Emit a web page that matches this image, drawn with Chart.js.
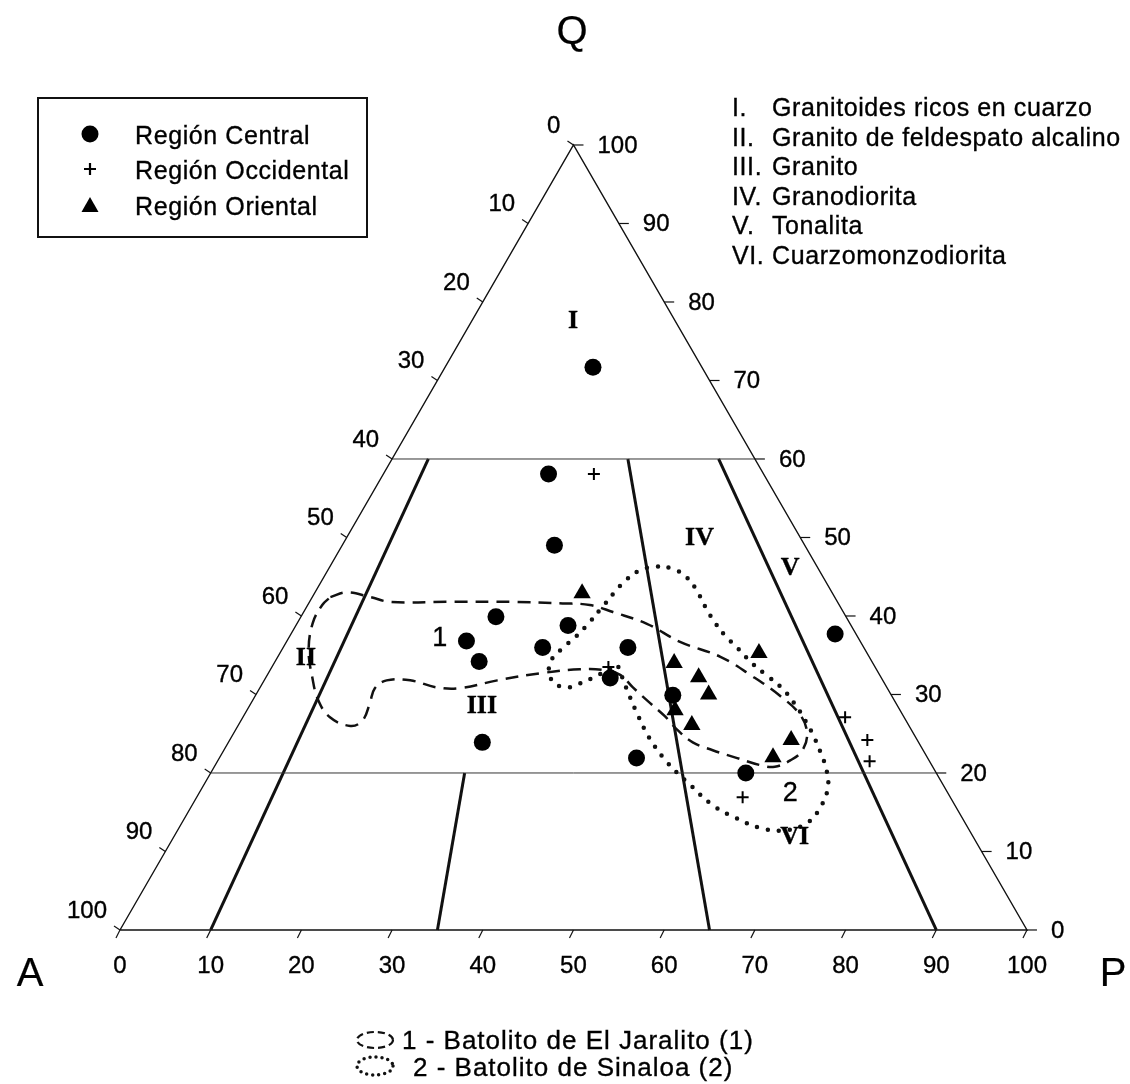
<!DOCTYPE html>
<html lang="es">
<head>
  <meta charset="UTF-8">
  <title>Diagrama QAP</title>
  <script src="https://cdn.jsdelivr.net/npm/chart.js"></script>
  <style>
    html, body {
      margin: 0;
      padding: 0;
      background: #fff;
    }
    #wrap {
      position: relative;
      width: 1130px;
      height: 1084px;
      font-family: "Liberation Sans", Arial, sans-serif;
      color: #000;
      overflow: hidden;
    }
    #wrap canvas {
      position: absolute;
      left: 0;
      top: 0;
    }
    .t {
      position: absolute;
      white-space: nowrap;
      line-height: 1;
      -webkit-text-stroke: 0.35px #000;
    }
    .tick { font-size: 24px; }
    .field { font-family: "Liberation Serif", "Times New Roman", serif; font-weight: bold; font-size: 26px; }
    .num { font-size: 27px; }
    .corner { font-size: 40px; -webkit-text-stroke: 0.2px #000; }
    #legend {
      position: absolute;
      left: 37px;
      top: 97px;
      width: 327px;
      height: 137px;
      border: 2px solid #111;
      font-size: 25px;
      letter-spacing: 0.6px;
      -webkit-text-stroke: 0.35px #000;
    }
    .row { position: absolute; left: 0; transform: translateY(-50%); }
    .row svg { position: absolute; left: 41px; top: -10px; }
    .row span { position: absolute; left: 96px; top: -13px; white-space: nowrap; }
    .list { font-size: 25px; letter-spacing: 0.6px; }
    .bottom { font-size: 26px; letter-spacing: 1px; }
  </style>
</head>
<body>
<div id="wrap">
  <canvas id="qap"></canvas>

  <div class="t corner" style="left:572px;top:30px;transform:translate(-50%,-50%)">Q</div>
  <div class="t corner" style="left:30px;top:972px;transform:translate(-50%,-50%)">A</div>
  <div class="t corner" style="left:1113px;top:972px;transform:translate(-50%,-50%)">P</div>

  <div id="legend">
    <div class="row" style="top:35px">
      <svg width="20" height="20"><circle cx="10" cy="10" r="8.5" fill="#000"/></svg>
      <span>Región Central</span>
    </div>
    <div class="row" style="top:70px">
      <svg width="20" height="20"><path d="M4 10H16M10 4V16" stroke="#000" stroke-width="2.2"/></svg>
      <span>Región Occidental</span>
    </div>
    <div class="row" style="top:106px">
      <svg width="20" height="20"><path d="M10 2L18.5 17H1.5Z" fill="#000"/></svg>
      <span>Región Oriental</span>
    </div>
  </div>

  <svg style="position:absolute;left:352px;top:1028px" width="46" height="52">
    <ellipse cx="23" cy="12" rx="18" ry="8" fill="none" stroke="#111" stroke-width="2.2" stroke-dasharray="7 4"/>
    <ellipse cx="23" cy="38" rx="18" ry="9" fill="none" stroke="#111" stroke-width="3.5" stroke-dasharray="0 6" stroke-linecap="round"/>
  </svg>
  <div class="t bottom" style="left:402px;top:1040px;transform:translateY(-50%)">1 - Batolito de El Jaralito (1)</div>
  <div class="t bottom" style="left:413px;top:1067px;transform:translateY(-50%)">2 - Batolito de Sinaloa (2)</div>
</div>

<script>
  // valores en % (Q = cuarzo, P = plagioclasa, A = 100 - Q - P)
  const tickValues = [0, 10, 20, 30, 40, 50, 60, 70, 80, 90, 100];

  const centralQ = [71.7, 58.1, 49.0, 39.9, 38.8, 36.8, 34.2, 36.0, 36.0, 32.1, 29.9, 23.9, 21.9, 20.0, 37.7];
  const centralP = [16.3, 18.2, 23.4, 21.5, 30.0, 19.8, 22.5, 28.6, 38.0, 38.0, 46.0, 28.0, 46.0, 59.0, 60.0];

  const occidentalQ = [58.1, 33.5, 27.1, 24.2, 21.5, 16.9];
  const occidentalP = [23.2, 37.1, 66.4, 70.3, 71.9, 60.2];

  const orientalQ = [42.9, 34.0, 32.2, 30.0, 28.0, 26.1, 35.3, 24.2, 22.0];
  const orientalP = [29.5, 44.1, 47.7, 49.9, 47.2, 50.0, 52.8, 61.9, 61.0];

  // contornos de los batolitos
  const jaralitoQ = [42.4, 43.0, 42.4, 41.8, 41.8, 41.8, 41.6, 41.4, 40.5, 39.0, 36.7, 34.8, 32.3, 29.8, 27.4, 25.1,
    22.9, 21.6, 20.8, 21.0, 21.9, 22.9, 23.9, 25.5, 27.2, 28.9, 30.9, 32.5, 33.1, 33.2, 32.7, 31.8, 30.8, 30.9, 31.8,
    31.8, 30.8, 28.9, 26.7, 26.0, 27.1, 29.3, 32.2, 35.6, 39.1, 41.4];
  const jaralitoP = [2.0, 3.5, 6.4, 8.9, 15.2, 22.5, 28.0, 31.1, 34.1, 38.6, 43.4, 48.8, 53.6, 57.9, 61.3, 63.2,
    63.8, 63.1, 61.8, 60.1, 57.1, 53.9, 51.2, 48.7, 46.5, 44.0, 41.1, 38.9, 36.9, 34.1, 30.0, 25.7, 22.1, 19.5, 16.1,
    13.5, 12.7, 13.1, 13.4, 12.4, 9.6, 7.2, 5.1, 3.0, 1.7, 1.6];

  const sinaloaQ = [33.5, 30.6, 27.6, 24.4, 21.4, 18.5, 15.9, 14.3, 13.0, 12.7, 13.7, 15.7, 18.1, 20.4, 22.3, 24.4,
    26.5, 28.8, 30.8, 32.3, 33.9, 35.8, 37.4, 39.0, 40.7, 43.0, 44.8, 46.0, 46.3, 45.8, 44.6, 42.9, 41.1, 39.3, 37.4,
    35.8, 34.0, 31.8, 30.9, 31.4, 32.3, 33.2];
  const sinaloaP = [38.2, 40.6, 43.2, 46.2, 49.6, 53.6, 57.4, 60.7, 64.1, 67.0, 69.0, 69.4, 69.0, 67.7, 66.2, 64.4,
    62.4, 60.0, 57.6, 55.3, 52.8, 50.3, 48.1, 46.2, 44.4, 42.2, 40.2, 38.0, 35.9, 34.4, 33.5, 33.0, 32.6, 32.2, 31.6,
    30.8, 30.4, 31.7, 33.6, 35.0, 36.3, 37.4];

  // limites de campos: Q horizontales y razones P/(A+P)
  const qLines = [60, 20];
  const upperRatios = [10, 65, 90];   // de Q=0 a Q=60
  const lowerRatios = [35];           // de Q=0 a Q=20

  const fieldNames = ['Granitoides ricos en cuarzo', 'Granito de feldespato alcalino', 'Granito',
    'Granodiorita', 'Tonalita', 'Cuarzomonzodiorita'];
  const fieldNumerals = ['I.', 'II.', 'III.', 'IV.', 'V.', 'VI.'];

  // etiquetas dentro del diagrama [texto, Q, P, clase]
  const insideLabels = [
    ['I', 77.7, 11.1, 'field'], ['II', 34.8, 3.1, 'field'], ['III', 28.6, 25.6, 'field'],
    ['IV', 50.0, 38.9, 'field'], ['V', 46.2, 50.8, 'field'], ['VI', 12.0, 68.4, 'field'],
    ['1', 37.3, 16.6, 'num'], ['2', 17.6, 65.1, 'num']
  ];

  function tern(q, p) {
    return { x: p + q / 2, y: q };
  }

  function series(qs, ps, close) {
    const pts = qs.map((q, i) => tern(q, ps[i]));
    if (close) pts.push(pts[0]);
    return pts;
  }

  const lineSet = (data, width) => ({
    data: data,
    showLine: true,
    pointRadius: 0,
    borderColor: '#111',
    borderWidth: width,
    tension: 0,
    fill: false
  });

  const datasets = [
    {
      label: 'Región Central',
      data: series(centralQ, centralP),
      pointStyle: 'circle',
      pointRadius: 8.5,
      backgroundColor: '#000',
      borderColor: '#000',
      borderWidth: 0
    },
    {
      label: 'Región Occidental',
      data: series(occidentalQ, occidentalP),
      pointStyle: 'cross',
      pointRadius: 6,
      borderColor: '#000',
      borderWidth: 2
    },
    {
      label: 'Región Oriental',
      data: series(orientalQ, orientalP),
      pointStyle: 'triangle',
      pointRadius: 10,
      backgroundColor: '#000',
      borderColor: '#000',
      borderWidth: 0
    },
    Object.assign(lineSet(series(jaralitoQ, jaralitoP, true), 2.5), {
      label: 'Batolito de El Jaralito', borderDash: [13, 8], tension: 0.4
    }),
    Object.assign(lineSet(series(sinaloaQ, sinaloaP, true), 4.5), {
      label: 'Batolito de Sinaloa', borderDash: [0, 11], borderCapStyle: 'round', tension: 0.4
    }),
    Object.assign(lineSet([tern(0, 0), tern(0, 100), tern(100, 0), tern(0, 0)], 1.4), { label: 'marco' })
  ];

  qLines.forEach(q => {
    datasets.push(Object.assign(lineSet([tern(q, 0), tern(q, 100 - q)], 1), { label: 'Q' + q, borderColor: '#333' }));
  });
  upperRatios.forEach(r => {
    datasets.push(Object.assign(lineSet([tern(0, r), tern(60, r * 0.4)], 3), { label: 'R' + r }));
  });
  lowerRatios.forEach(r => {
    datasets.push(Object.assign(lineSet([tern(0, r), tern(20, r * 0.8)], 3), { label: 'R' + r }));
  });

  const wrap = document.getElementById('wrap');

  function addText(text, left, top, cls, shift) {
    const el = document.createElement('div');
    el.className = 't ' + cls;
    el.textContent = text;
    el.style.left = left + 'px';
    el.style.top = top + 'px';
    el.style.transform = 'translate(' + shift + ',-50%)';
    wrap.appendChild(el);
  }

  // lista de campos (arriba a la derecha)
  fieldNames.forEach((name, i) => {
    const top = 107 + i * 29.6;
    addText(fieldNumerals[i], 732, top, 'list', '0');
    addText(name, 772, top, 'list', '0');
  });

  let labelsDone = false;

  const ternaryAxes = {
    id: 'ternaryAxes',
    afterDatasetsDraw(chart) {
      const { ctx, scales: { x, y } } = chart;
      const px = p => [x.getPixelForValue(p.x), y.getPixelForValue(p.y)];
      ctx.save();
      ctx.strokeStyle = '#111';
      ctx.lineWidth = 1.2;
      tickValues.forEach(v => {
        // lado izquierdo (0 arriba, 100 abajo)
        let [lx, ly] = px(tern(100 - v, 0));
        ctx.beginPath(); ctx.moveTo(lx, ly); ctx.lineTo(lx - 6, ly - 4); ctx.stroke();
        // lado derecho (Q)
        let [rx, ry] = px(tern(v, 100 - v));
        ctx.beginPath(); ctx.moveTo(rx, ry); ctx.lineTo(rx + 10, ry); ctx.stroke();
        // base
        let [bx, by] = px(tern(0, v));
        ctx.beginPath(); ctx.moveTo(bx, by); ctx.lineTo(bx - 4, by + 8); ctx.stroke();
      });
      ctx.restore();

      if (labelsDone) return;
      labelsDone = true;
      tickValues.forEach(v => {
        let [lx, ly] = px(tern(100 - v, 0));
        addText(String(v), lx - 13, ly - 20, 'tick', '-100%');
        let [rx, ry] = px(tern(v, 100 - v));
        addText(String(v), rx + 24, ry, 'tick', '0');
        let [bx, by] = px(tern(0, v));
        addText(String(v), bx, by + 35, 'tick', '-50%');
      });
      insideLabels.forEach(([txt, q, p, cls]) => {
        let [lx, ly] = px(tern(q, p));
        addText(txt, lx, ly, cls, '-50%');
      });
    }
  };

  const canvas = document.getElementById('qap');
  canvas.width = 1130;
  canvas.height = 1084;

  new Chart(canvas.getContext('2d'), {
    type: 'scatter',
    data: { datasets: datasets },
    options: {
      responsive: false,
      animation: false,
      events: [],
      layout: { padding: 0, autoPadding: false },
      plugins: {
        legend: { display: false },
        tooltip: { enabled: false }
      },
      scales: {
        x: { type: 'linear', min: -13.23, max: 111.36, display: false },
        y: { type: 'linear', min: -19.62, max: 118.47, display: false }
      }
    },
    plugins: [ternaryAxes]
  });
</script>
</body>
</html>
